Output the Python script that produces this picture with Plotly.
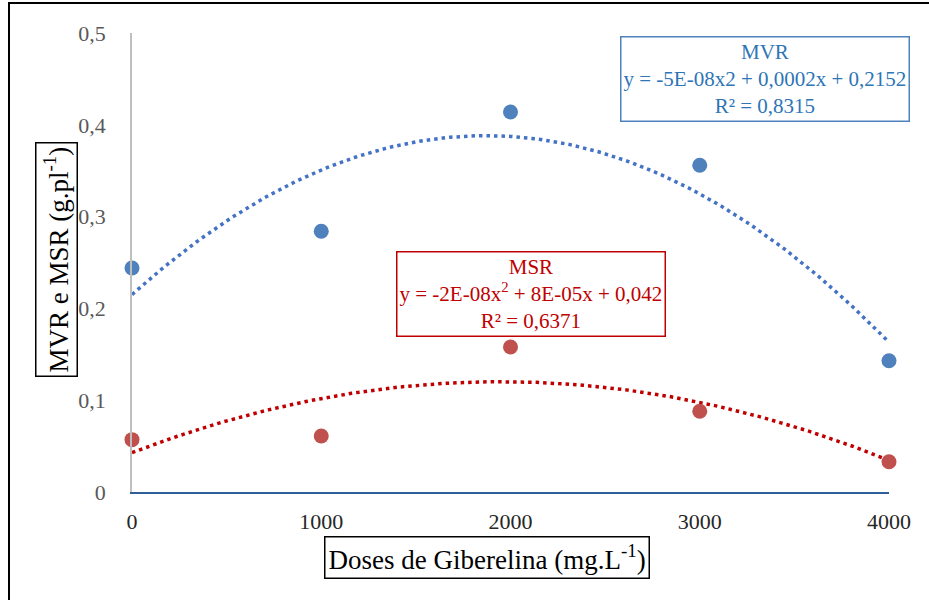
import numpy as np
import plotly.graph_objects as go

doses = [0, 1000, 2000, 3000, 4000]
mvr = [0.244, 0.284, 0.414, 0.356, 0.143]
msr = [0.057, 0.061, 0.158, 0.088, 0.033]
y_ticks = [0, 0.1, 0.2, 0.3, 0.4, 0.5]
y_tick_labels = ["0", "0,1", "0,2", "0,3", "0,4", "0,5"]
x_ticks = [0, 1000, 2000, 3000, 4000]
x_tick_labels = ["0", "1000", "2000", "3000", "4000"]

FONT = "Liberation Serif"
BLUE_M = "#4f81bd"
RED_M = "#c0504d"
BLUE_T = "#4472c4"
RED_T = "#c00000"

xs = np.linspace(0, 4000, 201)
fit_mvr = np.polyval(np.polyfit(doses, mvr, 2), xs)
fit_msr = np.polyval(np.polyfit(doses, msr, 2), xs)

fig = go.Figure()
fig.add_trace(go.Scatter(x=xs, y=fit_mvr, mode="lines",
                         line=dict(color=BLUE_T, width=3.5, dash="3.5px,4px"),
                         hoverinfo="skip", showlegend=False))
fig.add_trace(go.Scatter(x=xs, y=fit_msr, mode="lines",
                         line=dict(color=RED_T, width=3.5, dash="3.5px,4px"),
                         hoverinfo="skip", showlegend=False))
fig.add_trace(go.Scatter(x=doses, y=mvr, mode="markers", name="MVR",
                         marker=dict(color=BLUE_M, size=15), cliponaxis=False,
                         showlegend=False))
fig.add_trace(go.Scatter(x=doses, y=msr, mode="markers", name="MSR",
                         marker=dict(color=RED_M, size=15), cliponaxis=False,
                         showlegend=False))

W, H = 929, 600
L, R, T, B = 132, 889, 33, 492

def px_x(p):
    return (p - L) / (R - L)

def px_y(p):
    return (B - p) / (B - T)

fig.update_layout(
    width=W, height=H,
    margin=dict(l=L, r=W - R, t=T, b=H - B, pad=0),
    paper_bgcolor="white", plot_bgcolor="white",
    font=dict(family=FONT),
    showlegend=False,
    xaxis=dict(range=[0, 4000], tickvals=x_ticks, ticktext=x_tick_labels,
               showgrid=False, zeroline=False, showline=True,
               linecolor="#2f5f98", linewidth=2, ticks="",
               tickfont=dict(family=FONT, size=22, color="#262626"),
               ticklabelstandoff=9),
    yaxis=dict(range=[0, 0.5], tickvals=y_ticks, ticktext=y_tick_labels,
               showgrid=False, zeroline=False, showline=True,
               linecolor="#bfbfbf", linewidth=1.5, ticks="",
               tickfont=dict(family=FONT, size=22, color="#595959"),
               ticklabelstandoff=20),
    shapes=[dict(type="rect", xref="paper", yref="paper",
                 x0=px_x(9), x1=px_x(940), y0=px_y(610), y1=px_y(3),
                 line=dict(color="black", width=2), fillcolor="rgba(0,0,0,0)",
                 layer="below")],
    annotations=[
        dict(xref="paper", yref="paper", x=px_x(765), y=px_y(79),
             text="MVR<br>y = -5E-08x2 + 0,0002x + 0,2152<br>R² = 0,8315",
             showarrow=False, font=dict(family=FONT, size=21, color="#2e75b6"),
             bordercolor=BLUE_M, borderwidth=1.5, borderpad=2, bgcolor="white",
             xanchor="center", yanchor="middle"),
        dict(xref="paper", yref="paper", x=px_x(531), y=px_y(294),
             text="MSR<br>y = -2E-08x<sup>2</sup> + 8E-05x + 0,042<br>R² = 0,6371",
             showarrow=False, font=dict(family=FONT, size=21, color=RED_T),
             bordercolor=RED_T, borderwidth=1.5, borderpad=2, bgcolor="white",
             xanchor="center", yanchor="middle"),
        dict(xref="paper", yref="paper", x=px_x(56), y=px_y(260),
             text="MVR e MSR (g.pl<sup>-1</sup>)", textangle=-90,
             showarrow=False, font=dict(family=FONT, size=27, color="black"),
             bordercolor="black", borderwidth=1.5, borderpad=3, bgcolor="white",
             xanchor="center", yanchor="middle"),
        dict(xref="paper", yref="paper", x=px_x(487), y=px_y(557),
             text="Doses de Giberelina (mg.L<sup>-1</sup>)",
             showarrow=False, font=dict(family=FONT, size=27, color="black"),
             bordercolor="black", borderwidth=1.5, borderpad=3, bgcolor="white",
             xanchor="center", yanchor="middle"),
    ],
)

fig.write_html("out.html", config={"displayModeBar": False},
               post_script="document.body.style.margin='0';document.body.style.overflow='hidden';")
